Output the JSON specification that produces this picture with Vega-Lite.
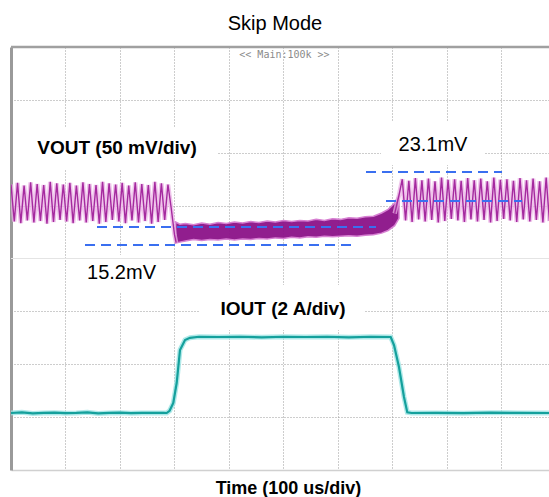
{
  "$schema": "https://vega.github.io/schema/vega-lite/v6.json",
  "width": 538,
  "height": 423,
  "autosize": {"type": "none"},
  "padding": {"left": 11, "top": 47, "right": 0, "bottom": 27},
  "background": "white",
  "config": {"view": {"stroke": null}, "font": "Liberation Sans"},
  "title": {"text": "Skip Mode", "fontSize": 20, "fontWeight": "normal", "font": "Liberation Sans", "color": "black", "anchor": "middle", "frame": "group", "baseline": "alphabetic", "offset": 18, "dx": -5, "dy": 22},
  "datasets": {
    "boxes": [
      {"t1": 3.7, "t2": 378, "d1": 5.674, "d2": 6.487},
      {"t1": 678.9, "t2": 867.9, "d1": 5.768, "d2": 6.582},
      {"t1": 104.6, "t2": 291.8, "d1": 3.366, "d2": 4.066},
      {"t1": 346.8, "t2": 647.7, "d1": 2.648, "d2": 3.499}
    ],
    "vband": [
      {"t": 302, "hi": 4.69, "lo": 4.29}, {"t": 310, "hi": 4.65, "lo": 4.31}, {"t": 320, "hi": 4.66, "lo": 4.33},
      {"t": 335, "hi": 4.64, "lo": 4.36}, {"t": 350, "hi": 4.67, "lo": 4.34}, {"t": 365, "hi": 4.65, "lo": 4.36},
      {"t": 380, "hi": 4.68, "lo": 4.35}, {"t": 395, "hi": 4.66, "lo": 4.37}, {"t": 410, "hi": 4.69, "lo": 4.35},
      {"t": 425, "hi": 4.67, "lo": 4.37}, {"t": 440, "hi": 4.70, "lo": 4.36}, {"t": 455, "hi": 4.68, "lo": 4.38},
      {"t": 470, "hi": 4.71, "lo": 4.37}, {"t": 485, "hi": 4.69, "lo": 4.39}, {"t": 500, "hi": 4.72, "lo": 4.38},
      {"t": 515, "hi": 4.70, "lo": 4.40}, {"t": 530, "hi": 4.72, "lo": 4.39}, {"t": 545, "hi": 4.71, "lo": 4.41},
      {"t": 560, "hi": 4.74, "lo": 4.40}, {"t": 575, "hi": 4.72, "lo": 4.42}, {"t": 590, "hi": 4.75, "lo": 4.41},
      {"t": 605, "hi": 4.74, "lo": 4.42}, {"t": 620, "hi": 4.77, "lo": 4.43}, {"t": 635, "hi": 4.76, "lo": 4.42},
      {"t": 650, "hi": 4.79, "lo": 4.44}, {"t": 665, "hi": 4.80, "lo": 4.45}, {"t": 680, "hi": 4.86, "lo": 4.48},
      {"t": 692, "hi": 4.93, "lo": 4.53}, {"t": 704, "hi": 5.05, "lo": 4.62}, {"t": 712, "hi": 5.22, "lo": 4.76}
    ],
    "vout": [
      {"s": "L", "t": 0, "d": 5.40}, {"s": "L", "t": 6, "d": 4.70}, {"s": "L", "t": 12, "d": 5.43}, {"s": "L", "t": 18, "d": 4.67},
      {"s": "L", "t": 24, "d": 5.38}, {"s": "L", "t": 30, "d": 4.72}, {"s": "L", "t": 36, "d": 5.44}, {"s": "L", "t": 42, "d": 4.68},
      {"s": "L", "t": 48, "d": 5.41}, {"s": "L", "t": 54, "d": 4.71}, {"s": "L", "t": 60, "d": 5.39}, {"s": "L", "t": 66, "d": 4.66},
      {"s": "L", "t": 72, "d": 5.45}, {"s": "L", "t": 78, "d": 4.69}, {"s": "L", "t": 84, "d": 5.42}, {"s": "L", "t": 90, "d": 4.73},
      {"s": "L", "t": 96, "d": 5.40}, {"s": "L", "t": 102, "d": 4.70}, {"s": "L", "t": 108, "d": 5.43}, {"s": "L", "t": 114, "d": 4.67},
      {"s": "L", "t": 120, "d": 5.38}, {"s": "L", "t": 126, "d": 4.72}, {"s": "L", "t": 132, "d": 5.44}, {"s": "L", "t": 138, "d": 4.68},
      {"s": "L", "t": 144, "d": 5.41}, {"s": "L", "t": 150, "d": 4.71}, {"s": "L", "t": 156, "d": 5.39}, {"s": "L", "t": 162, "d": 4.66},
      {"s": "L", "t": 168, "d": 5.45}, {"s": "L", "t": 174, "d": 4.69}, {"s": "L", "t": 180, "d": 5.42}, {"s": "L", "t": 186, "d": 4.73},
      {"s": "L", "t": 192, "d": 5.40}, {"s": "L", "t": 198, "d": 4.70}, {"s": "L", "t": 204, "d": 5.43}, {"s": "L", "t": 210, "d": 4.67},
      {"s": "L", "t": 216, "d": 5.38}, {"s": "L", "t": 222, "d": 4.72}, {"s": "L", "t": 228, "d": 5.44}, {"s": "L", "t": 234, "d": 4.68},
      {"s": "L", "t": 240, "d": 5.41}, {"s": "L", "t": 246, "d": 4.71}, {"s": "L", "t": 252, "d": 5.39}, {"s": "L", "t": 258, "d": 4.66},
      {"s": "L", "t": 264, "d": 5.45}, {"s": "L", "t": 270, "d": 4.69}, {"s": "L", "t": 276, "d": 5.42}, {"s": "L", "t": 282, "d": 4.73},
      {"s": "L", "t": 288, "d": 5.40}, {"s": "L", "t": 294, "d": 4.95}, {"s": "L", "t": 300, "d": 4.45}, {"s": "L", "t": 303, "d": 4.30},
      {"s": "R", "t": 704, "d": 4.85}, {"s": "R", "t": 712, "d": 5.20}, {"s": "R", "t": 718, "d": 5.50}, {"s": "R", "t": 724, "d": 4.72},
      {"s": "R", "t": 730, "d": 5.47}, {"s": "R", "t": 736, "d": 4.69}, {"s": "R", "t": 742, "d": 5.52}, {"s": "R", "t": 748, "d": 4.74},
      {"s": "R", "t": 754, "d": 5.48}, {"s": "R", "t": 760, "d": 4.70}, {"s": "R", "t": 766, "d": 5.51}, {"s": "R", "t": 772, "d": 4.73},
      {"s": "R", "t": 778, "d": 5.46}, {"s": "R", "t": 784, "d": 4.68}, {"s": "R", "t": 790, "d": 5.53}, {"s": "R", "t": 796, "d": 4.71},
      {"s": "R", "t": 802, "d": 5.49}, {"s": "R", "t": 808, "d": 4.75}, {"s": "R", "t": 814, "d": 5.50}, {"s": "R", "t": 820, "d": 4.72},
      {"s": "R", "t": 826, "d": 5.47}, {"s": "R", "t": 832, "d": 4.69}, {"s": "R", "t": 838, "d": 5.52}, {"s": "R", "t": 844, "d": 4.74},
      {"s": "R", "t": 850, "d": 5.48}, {"s": "R", "t": 856, "d": 4.70}, {"s": "R", "t": 862, "d": 5.51}, {"s": "R", "t": 868, "d": 4.73},
      {"s": "R", "t": 874, "d": 5.46}, {"s": "R", "t": 880, "d": 4.68}, {"s": "R", "t": 886, "d": 5.53}, {"s": "R", "t": 892, "d": 4.71},
      {"s": "R", "t": 898, "d": 5.49}, {"s": "R", "t": 904, "d": 4.75}, {"s": "R", "t": 910, "d": 5.50}, {"s": "R", "t": 916, "d": 4.72},
      {"s": "R", "t": 922, "d": 5.47}, {"s": "R", "t": 928, "d": 4.69}, {"s": "R", "t": 934, "d": 5.52}, {"s": "R", "t": 940, "d": 4.74},
      {"s": "R", "t": 946, "d": 5.48}, {"s": "R", "t": 952, "d": 4.70}, {"s": "R", "t": 958, "d": 5.51}, {"s": "R", "t": 964, "d": 4.73},
      {"s": "R", "t": 970, "d": 5.46}, {"s": "R", "t": 976, "d": 4.68}, {"s": "R", "t": 982, "d": 5.53}, {"s": "R", "t": 988, "d": 4.71}
    ],
    "iout": [
      {"t": 0, "d": 1.078}, {"t": 20, "d": 1.09}, {"t": 40, "d": 1.07}, {"t": 60, "d": 1.08}, {"t": 80, "d": 1.085},
      {"t": 100, "d": 1.075}, {"t": 120, "d": 1.08}, {"t": 140, "d": 1.09}, {"t": 160, "d": 1.07}, {"t": 180, "d": 1.08},
      {"t": 200, "d": 1.085}, {"t": 220, "d": 1.075}, {"t": 240, "d": 1.08}, {"t": 260, "d": 1.08}, {"t": 280, "d": 1.08},
      {"t": 285.7, "d": 1.078}, {"t": 291, "d": 1.12}, {"t": 297.8, "d": 1.267}, {"t": 304, "d": 1.645}, {"t": 310.1, "d": 2.27},
      {"t": 319.3, "d": 2.459}, {"t": 328.4, "d": 2.50}, {"t": 345, "d": 2.52}, {"t": 380, "d": 2.515}, {"t": 420, "d": 2.52},
      {"t": 460, "d": 2.51}, {"t": 500, "d": 2.52}, {"t": 540, "d": 2.515}, {"t": 580, "d": 2.52}, {"t": 620, "d": 2.51},
      {"t": 660, "d": 2.52}, {"t": 696.7, "d": 2.515}, {"t": 702.8, "d": 2.364}, {"t": 711.9, "d": 1.948}, {"t": 721.1, "d": 1.381},
      {"t": 727.2, "d": 1.09}, {"t": 735, "d": 1.078}, {"t": 780, "d": 1.08}, {"t": 830, "d": 1.075}, {"t": 880, "d": 1.085},
      {"t": 930, "d": 1.08}, {"t": 987.2, "d": 1.078}
    ],
    "dashes": [
      {"d": 4.596, "t1": 157.8, "t2": 669.8},
      {"d": 4.255, "t1": 135.8, "t2": 633.0},
      {"d": 5.636, "t1": 651.4, "t2": 901.0},
      {"d": 5.087, "t1": 688.1, "t2": 937.7}
    ],
    "boldlabels": [
      {"label": "VOUT (50 mV/div)", "t": 194.5, "d": 6.09},
      {"label": "IOUT (2 A/div)", "t": 499.1, "d": 3.045}
    ],
    "labels": [
      {"label": "23.1mV", "t": 774.3, "d": 6.147},
      {"label": "15.2mV", "t": 202.8, "d": 3.726}
    ],
    "scope": [
      {"label": "<< Main:100k >>", "t": 501.8, "d": 7.85}
    ]
  },
  "layer": [
    {
      "data": {"name": "boxes"},
      "mark": {"type": "rect", "color": "white"},
      "encoding": {
        "x": {"field": "t", "type": "quantitative", "scale": {"domain": [0, 987.2], "nice": false, "zero": false},
          "axis": {"orient": "bottom", "values": [100, 200, 300, 400, 500, 600, 700, 800, 900], "grid": true, "gridDash": [1, 2], "gridColor": "#9a9a9a", "gridWidth": 1, "labels": false, "ticks": false, "domain": true, "domainColor": "#d0d0d0", "domainWidth": 1.5, "title": "Time (100 us/div)", "titleFont": "Liberation Sans", "titleFontSize": 18, "titleFontWeight": "bold", "titleColor": "black", "titleBaseline": "top", "titlePadding": 9, "titleX": 277}},
        "x2": {"field": "t2"},
        "y": {"field": "d1", "type": "quantitative", "scale": {"domain": [0, 8], "nice": false, "zero": false},
          "axis": {"orient": "left", "values": [1, 2, 3, 5, 6, 7], "grid": true, "gridDash": [1, 2], "gridColor": "#9a9a9a", "gridWidth": 1, "labels": false, "ticks": false, "domain": true, "domainColor": "#9a9a9a", "domainWidth": 3, "title": null}},
        "y2": {"field": "d2"}
      },
      "transform": [{"calculate": "datum.t1", "as": "t"}]
    },
    {
      "data": {"values": [{"d": 4}]},
      "mark": {"type": "rule", "color": "#e4e4e4", "strokeWidth": 1},
      "encoding": {"y": {"field": "d", "type": "quantitative"}}
    },
    {
      "data": {"values": [{"d": 8}]},
      "mark": {"type": "rule", "color": "#a0a0a0", "strokeWidth": 2.5},
      "encoding": {"y": {"field": "d", "type": "quantitative"}}
    },
    {
      "data": {"name": "vband"},
      "mark": {"type": "area", "color": "#8c1289", "stroke": "#d57ad0", "strokeWidth": 1.5, "opacity": 0.95},
      "encoding": {
        "x": {"field": "t", "type": "quantitative"},
        "y": {"field": "hi", "type": "quantitative"},
        "y2": {"field": "lo"}
      }
    },
    {
      "data": {"name": "vout"},
      "mark": {"type": "line", "color": "#eab0e4", "strokeWidth": 4.5, "opacity": 0.75, "clip": true},
      "encoding": {
        "x": {"field": "t", "type": "quantitative"},
        "y": {"field": "d", "type": "quantitative"},
        "detail": {"field": "s"}
      }
    },
    {
      "data": {"name": "vout"},
      "mark": {"type": "line", "color": "#a52a9f", "strokeWidth": 1.4, "clip": true},
      "encoding": {
        "x": {"field": "t", "type": "quantitative"},
        "y": {"field": "d", "type": "quantitative"},
        "detail": {"field": "s"}
      }
    },
    {
      "data": {"name": "iout"},
      "mark": {"type": "line", "color": "#9be3e3", "strokeWidth": 5, "opacity": 0.8},
      "encoding": {
        "x": {"field": "t", "type": "quantitative"},
        "y": {"field": "d", "type": "quantitative"}
      }
    },
    {
      "data": {"name": "iout"},
      "mark": {"type": "line", "color": "#14a09c", "strokeWidth": 2.2},
      "encoding": {
        "x": {"field": "t", "type": "quantitative"},
        "y": {"field": "d", "type": "quantitative"}
      }
    },
    {
      "data": {"name": "dashes"},
      "mark": {"type": "rule", "color": "#3a6ff0", "strokeWidth": 2.2, "strokeDash": [10, 6]},
      "encoding": {
        "x": {"field": "t1", "type": "quantitative"},
        "x2": {"field": "t2"},
        "y": {"field": "d", "type": "quantitative"}
      }
    },
    {
      "data": {"name": "boldlabels"},
      "mark": {"type": "text", "font": "Liberation Sans", "fontSize": 19, "fontWeight": "bold", "color": "black", "align": "center", "baseline": "middle"},
      "encoding": {
        "x": {"field": "t", "type": "quantitative"},
        "y": {"field": "d", "type": "quantitative"},
        "text": {"field": "label"}
      }
    },
    {
      "data": {"name": "labels"},
      "mark": {"type": "text", "font": "Liberation Sans", "fontSize": 20, "color": "black", "align": "center", "baseline": "middle"},
      "encoding": {
        "x": {"field": "t", "type": "quantitative"},
        "y": {"field": "d", "type": "quantitative"},
        "text": {"field": "label"}
      }
    },
    {
      "data": {"name": "scope"},
      "mark": {"type": "text", "font": "DejaVu Sans Mono", "fontSize": 10, "color": "#8a8a8a", "align": "center", "baseline": "middle"},
      "encoding": {
        "x": {"field": "t", "type": "quantitative"},
        "y": {"field": "d", "type": "quantitative"},
        "text": {"field": "label"}
      }
    }
  ]
}
